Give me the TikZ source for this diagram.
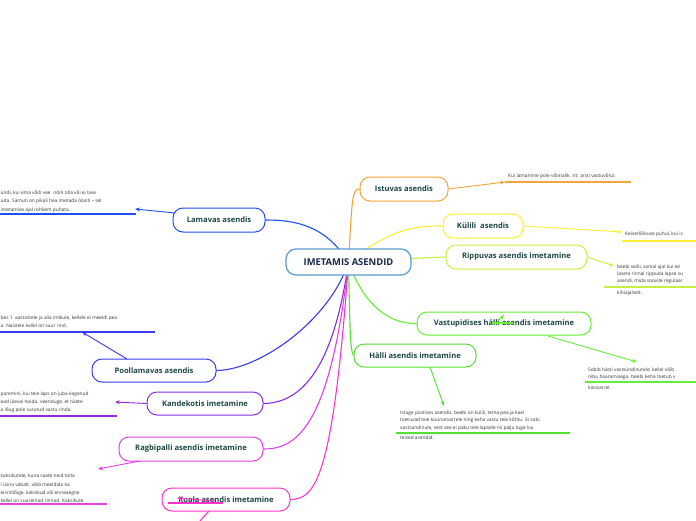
\documentclass[tikz,border=0pt]{standalone}
\usepackage{fontspec}
\setmainfont{Open Sans}
\usetikzlibrary{arrows.meta}
\pgfdeclarelayer{bg}\pgfsetlayers{bg,main}
\definecolor{corange}{HTML}{F5A535}
\definecolor{cyellow}{HTML}{FFEE33}
\definecolor{clime}{HTML}{C8F040}
\definecolor{cgreen}{HTML}{66EE33}
\definecolor{cgreenb}{HTML}{55E033}
\definecolor{cblue}{HTML}{2050F5}
\definecolor{cindigo}{HTML}{3A3AF0}
\definecolor{cpurple}{HTML}{8A2BE8}
\definecolor{cmagenta}{HTML}{E040E8}
\definecolor{cpink}{HTML}{FF33CC}
\definecolor{ccenter}{HTML}{5B9BD5}
\definecolor{txt}{HTML}{1E4646}
\definecolor{ctxt}{HTML}{1B2A4A}
\definecolor{ntxt}{HTML}{333333}
\begin{document}
\begin{tikzpicture}[x=1pt,y=-1pt,
  topic/.style={draw=#1, line width=1pt, rounded corners=10pt, fill=white,
    minimum height=24pt, inner sep=0pt, text=txt,
    font=\fontsize{7.6}{9}\selectfont\bfseries},
  conn/.style={draw=#1, line width=1.1pt},
  arr/.style={draw=#1, line width=0.9pt, -{Stealth[length=5pt,width=4pt]}},
  ul/.style={draw=#1, line width=1.2pt},
  note/.style={anchor=west, inner sep=0pt, text=ntxt, font=\fontsize{4.8}{6}\selectfont}]
\useasboundingbox (0,0) rectangle (696,520);

% central node
\node[draw=ccenter, line width=1.2pt, rounded corners=10pt, fill=white,
  minimum width=125pt, minimum height=26pt, inner sep=0pt, text=ctxt,
  font=\fontsize{9.4}{11}\selectfont\bfseries] (c) at (348.5,262) {IMETAMIS ASENDID};

% topics
\node[topic=corange, minimum width=88pt] (ist) at (404,189) {Istuvas asendis};
\node[topic=cyellow, minimum width=80pt] (kul) at (483,226) {Külili\ \ asendis};
\node[topic=clime, minimum width=141pt] (rip) at (516.5,257) {Rippuvas asendis imetamine};
\node[topic=cgreen, minimum width=174pt, minimum height=23pt] (vas) at (504,323.5) {Vastupidises hälli asendis imetamine};
\node[topic=cgreenb, minimum width=122pt, minimum height=23pt] (hal) at (415,355.5) {Hälli asendis imetamine};
\node[topic=cblue, minimum width=92pt] (lam) at (219,220) {Lamavas asendis};
\node[topic=cindigo, minimum width=124pt, minimum height=23pt] (pool) at (154,370.5) {Poollamavas asendis};
\node[topic=cpurple, minimum width=116pt, minimum height=23pt] (kan) at (205,403.5) {Kandekotis imetamine};
\node[topic=cmagenta, minimum width=144pt] (rag) at (191,449) {Ragbipalli asendis imetamine};
\node[topic=cpink, minimum width=128pt, minimum height=23pt] (koa) at (226,499.5) {Koala asendis imetamine};

% connectors from centre
\begin{pgfonlayer}{bg}
\fill[white] (0,0) rectangle (696,520);
\draw[conn=corange] (c.center) .. controls (352,200) and (352,189) .. (ist.west);
\draw[conn=cyellow] (c.center) .. controls (392,228) and (415,226) .. (kul.west);
\draw[conn=clime] (c.center) .. controls (420,258) .. (rip.west);
\draw[conn=cgreen] (c.center) .. controls (362,300) and (385,324) .. (vas.west);
\draw[conn=cgreenb] (c.center) .. controls (350,330) and (350,350) .. (hal.west);
\draw[conn=cblue] (c.center) .. controls (325,225) and (295,220) .. (lam.east);
\draw[conn=cindigo] (c.center) .. controls (330,320) and (260,370) .. (pool.east);
\draw[conn=cpurple] (c.center) .. controls (332,380) and (295,403) .. (kan.east);
\draw[conn=cmagenta] (c.center) .. controls (330,430) and (295,449) .. (rag.east);
\draw[conn=cpink] (c.center) .. controls (333,480) and (315,499) .. (koa.east);
\end{pgfonlayer}

% ---- Istuvas note
\coordinate (a1) at (505,182);
\coordinate (u1) at (631,182);
\draw[arr=corange] (ist.east) -- (a1);
\draw[ul=corange] (a1) -- (u1);
\node[note] (n1) at (508,176) {Kui lamamine pole võimalik. nt: arsti vastuvõtul.};

% ---- Külili note
\coordinate (a2) at (622,232);
\coordinate (u2) at (696,241);
\coordinate (u2s) at (622,241);
\draw[arr=cyellow] (kul.east) -- (a2);
\draw[ul=cyellow] (u2s) -- (u2);
\node[note] (n2) at (625,234.5) {Keiserlõikuse puhul, kui is};

% ---- Rippuvas note
\coordinate (a3) at (614,266);
\coordinate (u3s) at (604,287);
\coordinate (u3) at (696,287);
\draw[arr=clime] (rip.east) -- (a3);
\draw[ul=clime] (u3s) -- (u3);
\node[note] (n3a) at (617,267) {beebi selili, samal ajal kui tei};
\node[note] (n3b) at (617,274) {lasete rinnal rippuda lapse su};
\node[note] (n3c) at (617,281) {asendi, mida soovite regulaar};
\node[note] (n3d) at (617,293) {kihiajalselt.};

% ---- Vastupidises note
\coordinate (v0) at (548,336);
\coordinate (a4) at (637,362);
\coordinate (u4s) at (585,382);
\coordinate (u4) at (696,382);
\draw[arr=cgreen] (v0) -- (a4);
\draw[ul=cgreen] (u4s) -- (u4);
\node[note] (n4a) at (588,370) {Sobib hästi vastsündinutele, kellel võib};
\node[note] (n4b) at (588,377) {nibu haaramisega. beebi keha toetub v};
\node[note] (n4c) at (588,388) {käsivarrel.};
\coordinate (s1) at (497,322);
\coordinate (s2) at (504,315);
\coordinate (s3) at (492,323);
\coordinate (s4) at (513,323);
\draw[arr=cgreen] (s1) -- (s2);
\draw[ul=cgreen] (s3) -- (s4);

% ---- Hälli note
\coordinate (h0) at (430,367);
\coordinate (a5) at (444,406);
\coordinate (u5s) at (396,433);
\coordinate (u5) at (570,433);
\draw[arr=cgreenb] (h0) -- (a5);
\draw[ul=cgreenb] (u5s) -- (u5);
\node[note] (n5a) at (400,413) {Istuge püstises asendis, beebi on külili, tema pea ja kael};
\node[note] (n5b) at (400,420) {toetuvad teie küünarvarrele ning keha vastu teie kõhtu. Ei sobi};
\node[note] (n5c) at (400,428) {vastsündinule, sest see ei paku teie lapsele nii palju tuge kui};
\node[note] (n5d) at (400,438) {teised asendid.};

% ---- Lamavas note
\coordinate (l0) at (175,213);
\coordinate (a6) at (135,209);
\coordinate (u6s) at (0,214);
\coordinate (u6) at (136,214);
\draw[arr=cblue] (l0) -- (a6);
\draw[ul=cblue] (u6s) -- (u6);
\node[note] (n6a) at (0.5,193) {ündi, kui ema võib vee\hspace{1.5pt} nõrk olla või ei lase};
\node[note] (n6b) at (0.5,201) {uda. Samuti on pikali hea imetada öösiti – sel};
\node[note] (n6c) at (0.5,210) {imetamise ajal rohkem puhata.};

% ---- Poollamavas note
\coordinate (p0) at (127,359);
\coordinate (a7) at (82,332);
\coordinate (u7s) at (0,332);
\coordinate (u7) at (155,332);
\draw[ul=cindigo] (u7s) -- (u7);
\draw[arr=cindigo] (p0) -- (a7);
\node[note] (n7a) at (0.5,318) {bes 1\ \ aastastele ja alla imikule, kellele ei meeldi pea};
\node[note] (n7b) at (0.5,325.5) {a. Naistele kellel on suur rind .};

% ---- Kandekotis note
\coordinate (a8) at (115,402);
\coordinate (u8s) at (0,416);
\coordinate (u8) at (117,416);
\draw[arr=cpurple] (kan.west) -- (a8);
\draw[ul=cpurple] (u8s) -- (u8);
\node[note] (n8a) at (0.5,394) {paremini, kui teie laps on juba kogenud};
\node[note] (n8b) at (0.5,402) {ead üleval hoida. veenduge, et näete};
\node[note] (n8c) at (0.5,410) {a lõug pole surutud vastu rinda.};

% ---- Ragbipalli note
\coordinate (r0) at (140,461);
\coordinate (a9) at (98,469);
\coordinate (u9s) at (0,504);
\coordinate (u9) at (107,504);
\draw[arr=cmagenta] (r0) -- (a9);
\draw[ul=cmagenta] (u9s) -- (u9);
\node[note] (n9a) at (0.5,476) {kaksikutele, kuna saate neid toita};
\node[note] (n9b) at (0.5,485) {l üsna vabalt. võib meeldida ka};
\node[note] (n9c) at (0.5,493) {eisriitlõige, kaksikud või enneaegne};
\node[note] (n9d) at (0.5,501) {kellel on suuremad rinnad. Kaksikute};

% ---- Koala extras
\coordinate (k1) at (215,501);
\coordinate (k2) at (177,498);
\coordinate (k3) at (168,503);
\coordinate (k4) at (223,503);
\coordinate (k5) at (209,511);
\coordinate (k6) at (200,521);
\draw[arr=cpink] (k1) -- (k2);
\draw[ul=cpink] (k3) -- (k4);
\draw[conn=cpink] (k5) -- (k6);
\end{tikzpicture}
\end{document}
